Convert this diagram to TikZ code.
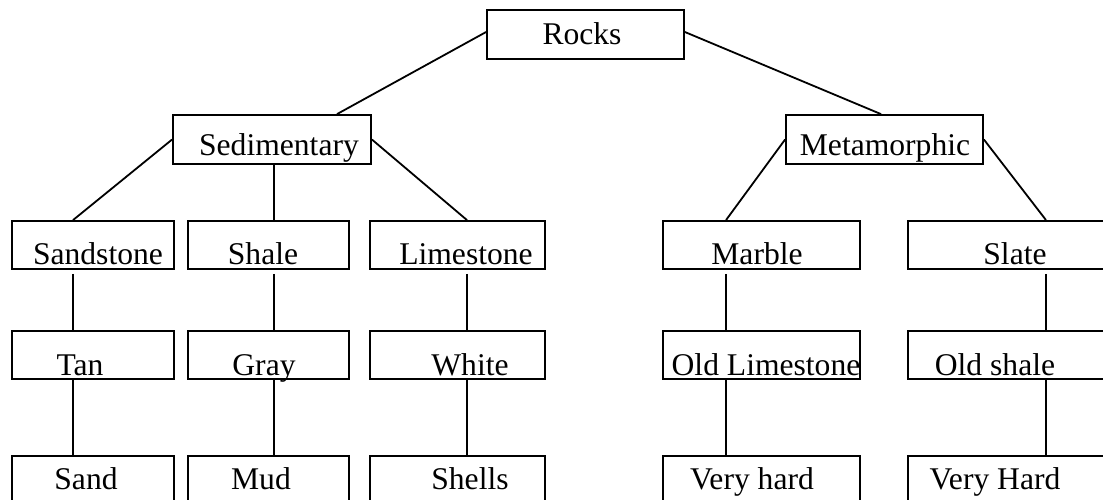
\documentclass[tikz,border=0pt]{standalone}
\usepackage{fontspec}
\setmainfont{Liberation Serif}
\begin{document}
\begin{tikzpicture}[x=1pt,y=-1pt,
  box/.style={draw=black, line width=1.8pt, rectangle, inner sep=0pt, minimum height=48pt},
  lbl/.style={inner sep=0pt, text height=22pt, text depth=0pt, font=\fontsize{31.6}{38}\selectfont},
  link/.style={draw=black, line width=1.8pt}]
\path[use as bounding box] (0,0) rectangle (1103,499);
\clip (0,0) rectangle (1103,499);
% level 0
\node[box, minimum width=197pt, minimum height=49pt, label={[lbl, xshift=-3.5pt, yshift=1.5pt]center:Rocks}] (rocks) at (585.5,34.5) {};
% level 1
\node[box, minimum width=198pt, minimum height=49pt, label={[lbl, xshift=7pt, yshift=-4.5pt]center:Sedimentary}] (sed) at (272,139.5) {};
\node[box, minimum width=197pt, minimum height=49pt, label={[lbl, xshift=0.5pt, yshift=-4.5pt]center:Metamorphic}] (met) at (884.5,139.5) {};
% level 2
\node[box, minimum width=162pt, label={[lbl, xshift=5pt, yshift=-8pt]center:Sandstone}] (sand) at (93,245) {};
\node[box, minimum width=161pt, label={[lbl, xshift=-5.5pt, yshift=-8pt]center:Shale}] (shale) at (268.5,245) {};
\node[box, minimum width=175pt, label={[lbl, xshift=8.5pt, yshift=-8pt]center:Limestone}] (lime) at (457.5,245) {};
\node[box, minimum width=197pt, label={[lbl, xshift=-4.5pt, yshift=-8pt]center:Marble}] (marble) at (761.5,245) {};
\node[box, minimum width=197pt, label={[lbl, xshift=8.5pt, yshift=-8pt]center:Slate}] (slate) at (1006.5,245) {};
% level 3
\node[box, minimum width=162pt, label={[lbl, xshift=-13pt, yshift=-9pt]center:Tan}] (tan) at (93,355) {};
\node[box, minimum width=161pt, label={[lbl, xshift=-4.5pt, yshift=-9pt]center:Gray}] (gray) at (268.5,355) {};
\node[box, minimum width=175pt, label={[lbl, xshift=12.5pt, yshift=-9pt]center:White}] (white) at (457.5,355) {};
\node[box, minimum width=197pt, label={[lbl, xshift=4.5pt, yshift=-9pt]center:Old Limestone}] (oldlime) at (761.5,355) {};
\node[box, minimum width=197pt, label={[lbl, xshift=-11.5pt, yshift=-9pt]center:Old shale}] (oldshale) at (1006.5,355) {};
% level 4
\node[box, minimum width=162pt, minimum height=49pt, label={[lbl, xshift=-7pt, yshift=2.5pt]center:Sand}] (sandl) at (93,480.5) {};
\node[box, minimum width=161pt, minimum height=49pt, label={[lbl, xshift=-7.5pt, yshift=2.5pt]center:Mud}] (mud) at (268.5,480.5) {};
\node[box, minimum width=175pt, minimum height=49pt, label={[lbl, xshift=12.5pt, yshift=2.5pt]center:Shells}] (shells) at (457.5,480.5) {};
\node[box, minimum width=197pt, minimum height=49pt, label={[lbl, xshift=-9.5pt, yshift=2.5pt]center:Very hard}] (vhard) at (761.5,480.5) {};
\node[box, minimum width=197pt, minimum height=49pt, label={[lbl, xshift=-11.5pt, yshift=2.5pt]center:Very Hard}] (vHard) at (1006.5,480.5) {};
% connectors
\path[link] ([yshift=2.5pt]rocks.west) -- ([xshift=65pt]sed.north);
\path[link] ([yshift=2.5pt]rocks.east) -- ([xshift=-3.5pt]met.north);
\path[link] (sed.west) -- ([xshift=-20pt]sand.north);
\path[link] ([xshift=2pt]sed.south) -- ([xshift=5.5pt]shale.north);
\path[link] (sed.east) -- ([xshift=9.5pt]lime.north);
\path[link] (met.west) -- ([xshift=-35.5pt]marble.north);
\path[link] (met.east) -- ([xshift=39.5pt]slate.north);
\path[link] ([xshift=-20pt,yshift=-4pt]sand.south) -- ([xshift=-20pt]tan.north);
\path[link] ([xshift=5.5pt,yshift=-4pt]shale.south) -- ([xshift=5.5pt]gray.north);
\path[link] ([xshift=9.5pt,yshift=-4pt]lime.south) -- ([xshift=9.5pt]white.north);
\path[link] ([xshift=-35.5pt,yshift=-4pt]marble.south) -- ([xshift=-35.5pt]oldlime.north);
\path[link] ([xshift=39.5pt,yshift=-4pt]slate.south) -- ([xshift=39.5pt]oldshale.north);
\path[link] ([xshift=-20pt]tan.south) -- ([xshift=-20pt]sandl.north);
\path[link] ([xshift=5.5pt]gray.south) -- ([xshift=5.5pt]mud.north);
\path[link] ([xshift=9.5pt]white.south) -- ([xshift=9.5pt]shells.north);
\path[link] ([xshift=-35.5pt]oldlime.south) -- ([xshift=-35.5pt]vhard.north);
\path[link] ([xshift=39.5pt]oldshale.south) -- ([xshift=39.5pt]vHard.north);
\end{tikzpicture}
\end{document}
